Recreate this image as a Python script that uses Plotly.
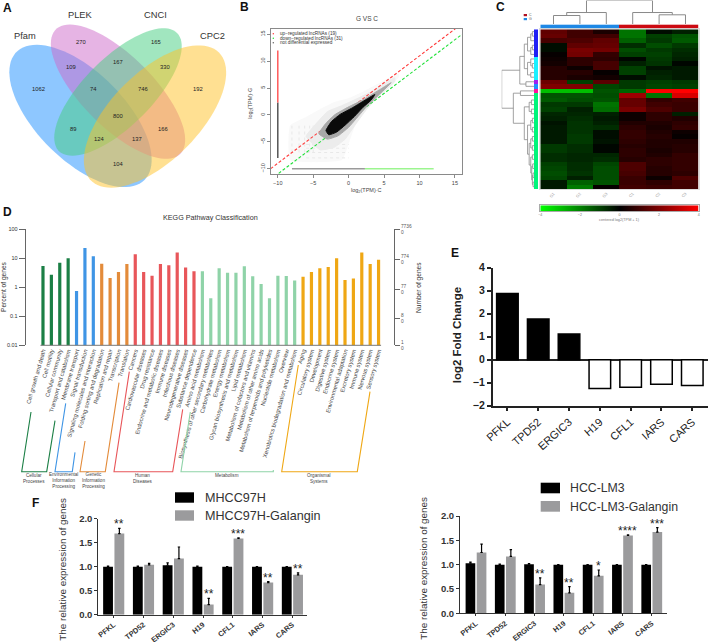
import numpy as np
import plotly.graph_objects as go

W, H = 709, 642
FONT = "Liberation Sans"

# ---------- Panel A data
venn_names = ["Pfam", "PLEK", "CNCI", "CPC2"]
venn_counts = [1062, 270, 165, 192, 109, 167, 330, 74, 746, 800, 89, 166, 124, 137, 104]

# ---------- Panel B data
up_label = "up\u2212regulated lncRNAs (19)"
down_label = "down\u2212regulated lncRNAs (31)"
none_label = "not differential expressed"
cloud_faint_x = [-8.2, -6, -4, -2, 0, 2, 5, 7, 7, 5, 3, 1, 0, -1, -8.2]
cloud_faint_y = [-2, -0.5, 1, 2.3, 3, 4.2, 6.3, 7.6, 7, 4.5, 1.8, -1.5, -5, -8.3, -8.3]
cloud_light_x = [-6, -4.5, -3, -1, 1, 3, 5.5, 6.5, 6.5, 4, 2.5, 1, -0.5, -2, -4]
cloud_light_y = [-4, -1.5, 0.6, 1.7, 2.9, 4.2, 6.2, 6.9, 6.2, 3.2, 1, -1.7, -4.5, -6, -6.5]
cloud_mid_x = [-4.2, -3.3, -2, 0, 2, 4.5, 6, 4, 2.5, 1, 0, -1.5, -3]
cloud_mid_y = [-3.5, -1.7, 0, 1.5, 2.8, 4.8, 6, 3.4, 1.5, -0.8, -2.3, -3.9, -4.5]
cloud_core_x = [-3.2, -2.4, -1.2, 0.5, 2, 3.7, 3.2, 2, 0.8, -0.5, -1.7, -2.8]
cloud_core_y = [-2.9, -1.2, 0.1, 1.3, 2.5, 3.8, 2.8, 1.4, -0.3, -1.9, -3.2, -3.7]
streak_cols = [-8, -7, -6.2, -5.5, -5]
streak_rows = [-8, -7, -6.2, -5.5]
axis_low, axis_split, axis_high = -8, 2.3, 12
b_ticks = [-10, -5, 0, 5, 10, 15]

# ---------- Panel C data
heat_cols = ["G1", "G2", "G3", "C1", "C2", "C3"]
heat_values = [
    [1.5, 1.0, 0.4, -1.8, -0.2, -0.5],
    [1.6, 1.0, 1.0, -1.8, -1.0, -1.3],
    [1.1, 1.2, 1.5, -1.5, -0.9, -1.4],
    [-0.2, 1.5, 1.6, -0.7, -1.2, -0.9],
    [-0.2, 1.9, 1.8, -1.2, -0.9, -0.7],
    [0.1, 1.8, 0.8, -1.0, -1.0, -0.6],
    [0.2, 0.7, 0.7, -0.1, -0.9, -0.5],
    [0.3, 0.7, 1.1, -0.5, -0.8, -0.1],
    [0.6, 0.2, 1.1, -1.0, -0.3, -0.4],
    [0.6, 0.6, 0.1, -1.0, -0.5, -0.4],
    [0.6, 0.4, 0.3, -0.2, -0.6, -0.4],
    [1.7, -1.0, 1.4, -0.9, -1.0, -0.9],
    [2.0, 2.0, -1.1, -0.9, -1.1, -1.0],
    [-3.0, -3.0, -1.3, -1.6, 4.0, 4.0],
    [-1.3, -1.3, -1.2, 2.5, -1.8, 3.4],
    [-1.4, -1.2, -1.3, 1.6, 0.8, 1.0],
    [-0.9, -0.9, -1.8, 1.6, 1.0, 0.9],
    [-1.0, -0.5, -1.7, 1.9, 1.2, 0.9],
    [-0.6, -0.6, -0.5, 0.2, 0.7, -0.5],
    [-0.5, -0.7, -0.4, 0.2, 0.7, 0.5],
    [-0.3, -0.8, -0.5, 0.5, 0.5, 0.7],
    [-0.4, -0.8, -0.7, 0.7, 0.4, 0.8],
    [-0.4, -0.8, -0.2, 0.8, 0.5, 0.2],
    [-0.4, -0.9, -0.2, 0.8, 0.6, 0.1],
    [-0.4, -0.9, -0.3, 0.7, 0.5, 0.5],
    [-0.9, -0.7, -0.1, 0.6, 0.5, 0.6],
    [-0.9, -0.7, -0.1, 0.7, 0.4, 0.6],
    [-0.7, -0.6, -0.6, 0.7, 0.5, 0.8],
    [-0.7, -0.6, -0.7, 0.6, 0.7, 0.8],
    [-1.0, -0.7, -1.1, 1.2, 0.7, 0.8],
    [-1.1, -0.7, -1.2, 1.2, 0.6, 0.8],
    [-1.2, -0.8, -1.2, 1.1, 0.6, 0.7],
    [-1.1, -0.5, -1.2, 0.9, 0.2, 1.2],
    [-0.4, -1.5, -1.3, 0.9, 0.7, 1.0],
    [-0.4, -1.9, 0.1, 1.0, 0.9, 1.0],
]
row_groups = [0] * 6 + [1] * 5 + [2] + [3] + [4] + [5] * 21
row_group_colors = ["#2020F5", "#19F0FF", "#A020F0", "#1E90FF", "#FF10A0", "#00F57A"]
col_groups = [0, 0, 0, 1, 1, 1]
col_group_colors = ["#1E88E5", "#CC0A12"]
top_tree = (1, (.486, (.36, 0, 1), 2), (.486, 3, (.39, 4, 5)))
upper_tree = (.44, (.3, (.2, (.1, (.05, 0, 1), 2), (.1, (.05, 3, 4), 5)),
                    (.2, (.1, 6, (.05, 7, 8)), (.1, 9, 10))), (.25, 11, 12))
rest_tree = (.3, (.15, (.08, 15, 16), (.08, 17, 18)),
             (.2, (.1, (.05, 19, 20), (.05, 21, 22)),
              (.15, (.1, (.05, 23, 24), (.05, 25, 26)),
               (.1, (.05, 27, 28), (.07, (.04, 29, 30), (.05, (.03, 31, 32), (.03, 33, 34)))))))
left_tree = (1, upper_tree, (.64, (.42, 13, 14), rest_tree))
scale_ticks = [-4, -2, 0, 2, 4]

# ---------- Panel D data
kegg_terms = [
    "Cell growth and death", "Cell motility", "Cellular community", "Transport and catabolism",
    "Membrane transport", "Signal transduction", "Signaling molecules and interaction",
    "Folding sorting and degradation", "Replication and repair", "Transcription", "Translation",
    "Cancers", "Cardiovascular diseases", "Drug resistance", "Endocrine and metabolic diseases",
    "Immune diseases", "Infectious diseases", "Neurodegenerative diseases", "Substance dependence",
    "Amino acid metabolism", "Biosynthesis of other secondary metabolites", "Carbohydrate metabolism",
    "Energy metabolism", "Glycan biosynthesis and metabolism", "Lipid metabolism",
    "Metabolism of cofactors and vitamins", "Metabolism of other amino acids",
    "Metabolism of terpenoids and polyketides", "Nucleotide metabolism", "Overview",
    "Xenobiotics biodegradation and metabolism",
    "Aging", "Circulatory system", "Development", "Digestive system", "Endocrine system",
    "Environmental adaptation", "Excretory system", "Immune system", "Nervous system", "Sensory system",
]
kegg_percent = [5.4, 2.7, 7.0, 10.0, 0.75, 22.7, 11.8, 6.5, 2.1, 3.4, 6.4,
                13.7, 3.4, 2.5, 6.4, 5.8, 16.0, 4.8, 3.6,
                3.6, 0.42, 4.5, 3.2, 3.2, 5.3, 2.4, 1.3, 0.42, 2.5, 2.45, 1.7,
                2.3, 3.4, 4.5, 5.0, 10.0, 1.8, 2.0, 16.0, 6.4, 9.0]
kegg_group_sizes = [4, 3, 4, 8, 12, 10]
kegg_group_colors = ["#1B7F45", "#3F95E5", "#E38B3A", "#E8565A", "#8FD3A8", "#EFA714"]
kegg_group_names = ["Cellular<br>Processes", "Environmental<br>Information<br>Processing",
                    "Genetic<br>Information<br>Processing", "Human<br>Diseases",
                    "Metabolism", "Organismal<br>Systems"]
percent_ticks = [100, 10, 1, 0.1, 0.01]
percent_labels = ["100", "10", "1", "0.1", "0.01"]
gene_ticks = [7736, 774, 77, 8, 1]

# ---------- Panel E data
genes = ["PFKL", "TPD52", "ERGIC3", "H19", "CFL1", "IARS", "CARS"]
fold_change = [2.88, 1.77, 1.12, -1.25, -1.2, -1.07, -1.12]

# ---------- Panel F data
mhcc_name, mhcc_gal_name = "MHCC97H", "MHCC97H-Galangin"
mhcc = [1.0, 1.0, 1.03, 1.0, 1.0, 1.0, 1.0]
mhcc_err = [0.01, 0.01, 0.05, 0.01, 0.0, 0.0, 0.0]
mhcc_gal = [1.69, 1.04, 1.17, 0.21, 1.59, 0.67, 0.83]
mhcc_gal_err = [0.11, 0.03, 0.24, 0.13, 0.01, 0.02, 0.04]
mhcc_stars = ["**", "", "", "**", "***", "**", "**"]
lm3_name, lm3_gal_name = "HCC-LM3", "HCC-LM3-Galangin"
lm3 = [1.03, 1.0, 1.01, 1.0, 1.0, 1.0, 1.0]
lm3_err = [0.02, 0.01, 0.01, 0.0, 0.0, 0.0, 0.0]
lm3_gal = [1.25, 1.17, 0.59, 0.42, 0.77, 1.6, 1.67]
lm3_gal_err = [0.17, 0.14, 0.14, 0.13, 0.12, 0.01, 0.09]
lm3_stars = ["", "", "**", "**", "*", "****", "***"]
rel_ticks = [0, 0.5, 1.0, 1.5, 2.0]


def X(a, b):
    return [a / W, b / W]


def Y(a, b):
    return [1 - b / H, 1 - a / H]


fig = go.Figure()
layout = {}
shapes, notes = [], []
OV = ("x13", "y13")


def txt(x, y, s, size, color="#222", angle=0, bold=False, xanchor="center", yanchor="middle"):
    notes.append(dict(x=x, y=y, xref=OV[0], yref=OV[1], text=s, showarrow=False, textangle=angle,
                      xanchor=xanchor, yanchor=yanchor, align="center",
                      font=dict(size=size, color=color, family=FONT, weight=700 if bold else 400)))


def poly(points, color, width=1.1):
    path = "M" + " L".join(f"{a:.2f},{b:.2f}" for a, b in points)
    shapes.append(dict(type="path", path=path, xref=OV[0], yref=OV[1], line=dict(color=color, width=width)))


# ---------- overlay pixel axis
layout["xaxis13"] = dict(domain=[0, 1], range=[0, W], visible=False, fixedrange=True, anchor="y13")
layout["yaxis13"] = dict(domain=[0, 1], range=[H, 0], visible=False, fixedrange=True, anchor="x13")

# ---------- Panel A
ell = [(80.5, 116, 90.5, 44, 45, "#1E90FF"), (118, 91.7, 88, 35.7, 45, "#CD69C9"),
       (118, 92, 83.5, 34, -45, "#43CD80"), (155, 116.5, 90.5, 44, -45, "#FFC125")]
t = np.linspace(0, 2 * np.pi, 90)
for cx, cy, a, b, ang, col in ell:
    th = np.radians(ang)
    ex = cx + a * np.cos(t) * np.cos(th) - b * np.sin(t) * np.sin(th)
    ey = cy + a * np.cos(t) * np.sin(th) + b * np.sin(t) * np.cos(th)
    path = "M" + " L".join(f"{p:.1f},{q:.1f}" for p, q in zip(ex, ey)) + " Z"
    shapes.append(dict(type="path", path=path, xref=OV[0], yref=OV[1], fillcolor=col, opacity=0.5,
                       line=dict(width=0), layer="below"))
for (px, py), name in zip([(24.5, 36), (80, 14.5), (155, 14.5), (212, 36)], venn_names):
    txt(px, py, name, 9.3, "#333")
count_pos = [(38.7, 89.3), (80.7, 41.7), (155.7, 41.7), (197.7, 89.3), (71, 66.7), (118, 61.7), (165, 66.7),
             (93, 89.3), (143, 89.3), (118, 116.3), (73.3, 129), (163.3, 129), (99.3, 139.3), (137, 139.3), (118, 163.7)]
for (px, py), c in zip(count_pos, venn_counts):
    txt(px, py, str(c), 5.8, "#222")

# ---------- Panel B
bx = dict(domain=X(270.7, 462), range=[-11, 16], anchor="y", tickvals=b_ticks, showgrid=False, zeroline=False,
          mirror=True, showline=True, linecolor="#8a8a8a", linewidth=1, ticks="outside", ticklen=3, tickcolor="#8a8a8a",
          tickfont=dict(size=5.5, color="#444", family=FONT))
layout["xaxis"] = bx
layout["yaxis"] = dict(bx, domain=Y(29, 174), anchor="x", tickangle=-90)


def blob(cx, cy, col):
    fig.add_trace(go.Scatter(x=cx + cx[:1], y=cy + cy[:1], fill="toself", fillcolor=col, mode="lines",
                             line=dict(color=col, width=1, shape="spline", smoothing=0.4),
                             hoverinfo="skip", showlegend=False))


blob(cloud_faint_x, cloud_faint_y, "#f9f9f9")
sx, sy = [], []
for c in streak_cols:
    sx += [c, c, None]; sy += [-7, -2, None]
for r in streak_rows:
    sx += [-6, 0, None]; sy += [r, r, None]
fig.add_trace(go.Scatter(x=sx, y=sy, mode="lines", line=dict(color="#e8e8e8", width=1, dash="dot"),
                         hoverinfo="skip", showlegend=False))
blob(cloud_light_x, cloud_light_y, "#ececec")
lim = [-11, 16]
fig.add_trace(go.Scatter(x=lim, y=[v + 1 for v in lim], mode="lines",
                         line=dict(color="#FF3B3B", width=1.1, dash="3px,2px"), hoverinfo="skip", showlegend=False))
fig.add_trace(go.Scatter(x=lim, y=[v - 1 for v in lim], mode="lines",
                         line=dict(color="#22E03A", width=1.1, dash="3px,2px"), hoverinfo="skip", showlegend=False))
blob(cloud_mid_x, cloud_mid_y, "#a8a8a8")
blob(cloud_core_x, cloud_core_y, "#0a0a0a")
for xs, ys, col in [([-10, -10], [axis_low, axis_split], "#555555"), ([-10, -10], [axis_split, axis_high], "#FF5A5A"),
                    ([axis_low, axis_split], [-10, -10], "#9a9a9a"), ([axis_split, axis_high], [-10, -10], "#9CF58F")]:
    fig.add_trace(go.Scatter(x=xs, y=ys, mode="lines", line=dict(color=col, width=1.5), hoverinfo="skip", showlegend=False))
txt(366.7, 18, "G VS C", 6.5, "#444")
txt(366.7, 190, "log<sub>2</sub>(TPM)\u00b7C", 5.5, "#444")
txt(249.7, 103, "log<sub>2</sub>(TPM)\u00b7G", 5.5, "#444", angle=-90)
for py, s in zip([33.7, 38.3, 42.7], [up_label, down_label, none_label]):
    txt(278, py, s, 4.7, "#333", xanchor="left")
fig.add_trace(go.Scatter(x=[273.3] * 3, y=[33.7, 38.3, 42.7], xaxis="x13", yaxis="y13", mode="markers",
                         marker=dict(size=1.5, color=["#FF3B3B", "#22E03A", "#666666"]),
                         hoverinfo="skip", showlegend=False))

# ---------- Panel C
hidden = dict(visible=False, fixedrange=True)
layout["xaxis2"] = dict(domain=X(540.3, 698.7), range=[-0.5, 5.5], anchor="y2", tickvals=list(range(6)), ticktext=heat_cols,
                        tickangle=-45, tickfont=dict(size=4, color="#999", family=FONT), ticks="", showgrid=False, zeroline=False,
                        mirror=True, showline=True, linecolor="#ddd")
layout["yaxis2"] = dict(domain=Y(29.3, 189), range=[34.5, -0.5], anchor="x2", showticklabels=False, ticks="", showgrid=False,
                        zeroline=False, mirror=True, showline=True, linecolor="#ddd")
gb = [[-4, "#00FF00"], [0, "#000000"], [4, "#FF0000"]]
gbs = [[(v + 4) / 8, c] for v, c in gb]
fig.add_trace(go.Heatmap(z=heat_values, xaxis="x2", yaxis="y2", zmin=-4, zmax=4, colorscale=gbs, showscale=False, hoverinfo="skip"))


def discrete(colors):
    n = len(colors)
    out = []
    for i, c in enumerate(colors):
        out += [[i / n, c], [(i + 1) / n, c]]
    return out


layout["xaxis3"] = dict(hidden, domain=X(540.3, 698.7), range=[-0.5, 5.5], anchor="y3")
layout["yaxis3"] = dict(hidden, domain=Y(24.4, 28.3), range=[-0.5, 0.5], anchor="x3")
fig.add_trace(go.Heatmap(z=[col_groups], xaxis="x3", yaxis="y3", zmin=-0.5, zmax=1.5, colorscale=discrete(col_group_colors),
                         showscale=False, hoverinfo="skip"))
layout["xaxis4"] = dict(hidden, domain=X(534, 538.3), range=[-0.5, 0.5], anchor="y4")
layout["yaxis4"] = dict(hidden, domain=Y(29.3, 189), range=[34.5, -0.5], anchor="x4")
fig.add_trace(go.Heatmap(z=[[g] for g in row_groups], xaxis="x4", yaxis="y4", zmin=-0.5, zmax=5.5,
                         colorscale=discrete(row_group_colors), showscale=False, hoverinfo="skip"))


def tree_lines(node, out_pos, out_h):
    """Return position of the node; appends bracket segments (pos, height)."""
    if not isinstance(node, tuple):
        return node, 0.0
    h, l, r = node
    pl, hl = tree_lines(l, out_pos, out_h)
    pr, hr = tree_lines(r, out_pos, out_h)
    out_pos += [pl, pl, pr, pr, None]
    out_h += [hl, h, h, hr, None]
    return (pl + pr) / 2, h


lp, lh = [], []
tree_lines(top_tree, lp, lh)
layout["xaxis5"] = dict(hidden, domain=X(540.3, 698.7), range=[-0.5, 5.5], anchor="y5")
layout["yaxis5"] = dict(hidden, domain=Y(0.4, 24), range=[0, 1], anchor="x5")
fig.add_trace(go.Scatter(x=lp, y=lh, xaxis="x5", yaxis="y5", mode="lines", line=dict(color="#8a8a8a", width=1),
                         hoverinfo="skip", showlegend=False))
lp, lh = [], []
tree_lines(left_tree, lp, lh)
layout["xaxis6"] = dict(hidden, domain=X(501.7, 534), range=[1, 0], anchor="y6")
layout["yaxis6"] = dict(hidden, domain=Y(29.3, 189), range=[34.5, -0.5], anchor="x6")
fig.add_trace(go.Scatter(x=lh, y=lp, xaxis="x6", yaxis="y6", mode="lines", line=dict(color="#8a8a8a", width=0.8),
                         hoverinfo="skip", showlegend=False))
layout["xaxis7"] = dict(domain=X(540.3, 698.7), range=[-4, 4], anchor="y7", tickvals=scale_ticks, ticks="", ticklen=0,
                        tickfont=dict(size=3.6, color="#777", family=FONT), showgrid=False, zeroline=False, mirror=True,
                        showline=True, linecolor="#aaa", tickcolor="#aaa")
layout["yaxis7"] = dict(domain=Y(205.3, 211), range=[0, 1], anchor="x7", showticklabels=False, ticks="", showgrid=False,
                        zeroline=False, mirror=True, showline=True, linecolor="#aaa", fixedrange=True)
fig.add_trace(go.Heatmap(z=[scale_ticks, scale_ticks], x=scale_ticks, y=[0, 1], xaxis="x7", yaxis="y7", zmin=-4, zmax=4,
                         colorscale=gbs, zsmooth="best", showscale=False, hoverinfo="skip"))
txt(619.5, 219.5, "centered log2(TPM + 1)", 3.8, "#777")
shapes.append(dict(type="rect", xref=OV[0], yref=OV[1], x0=523.7, x1=527, y0=14, y1=16.2, fillcolor="#B01020", line=dict(width=0)))
shapes.append(dict(type="rect", xref=OV[0], yref=OV[1], x0=523.7, x1=527, y0=18, y1=20.2, fillcolor="#1E88E5", line=dict(width=0)))
txt(530.5, 15, "C", 3.5, "#555")
txt(530.5, 19, "G", 3.5, "#555")

# ---------- Panel D
bar_colors = []
for n, c in zip(kegg_group_sizes, kegg_group_colors):
    bar_colors += [c] * n
idx = list(range(len(kegg_terms)))
layout["xaxis8"] = dict(domain=X(25.7, 394), range=[-2.06, 41.84], anchor="y8", tickvals=idx, ticktext=kegg_terms, tickangle=-74,
                        tickfont=dict(size=5.8, color="#444", family=FONT), ticks="", showgrid=False, zeroline=False, showline=False)
layout["yaxis8"] = dict(domain=Y(229.3, 345.3), type="log", range=[-2, 2], anchor="x8", tickvals=percent_ticks, ticktext=percent_labels,
                        ticks="outside", ticklen=6, tickcolor="#666", showline=True, linecolor="#666", linewidth=1,
                        tickfont=dict(size=5.5, color="#333", family=FONT), showgrid=False, zeroline=False)
layout["yaxis9"] = dict(domain=Y(229.3, 345.3), type="log", range=[0, float(np.log10(7736))], overlaying="y8", side="right", anchor="x8",
                        tickvals=gene_ticks, ticktext=[f"{g}<br>0" for g in gene_ticks], ticks="outside", ticklen=5, tickcolor="#666",
                        showline=True, linecolor="#666", linewidth=1, tickfont=dict(size=4.8, color="#555", family=FONT),
                        showgrid=False, zeroline=False)
fig.add_trace(go.Bar(x=idx, y=kegg_percent, xaxis="x8", yaxis="y8", width=0.38, marker=dict(color=bar_colors, line=dict(width=0)),
                     hoverinfo="skip", showlegend=False))
fig.add_trace(go.Scatter(x=idx[:1], y=gene_ticks[:1], xaxis="x8", yaxis="y9", mode="markers", marker=dict(size=1, opacity=0),
                         hoverinfo="skip", showlegend=False))
shapes.append(dict(type="line", xref="x8", yref="y8 domain", x0=-0.3, x1=40.3, y0=0, y1=0, line=dict(color="#777", width=1)))
txt(210, 217.7, "KEGG Pathway Classification", 7.2, "#333")
txt(4, 287, "Percent of genes", 6.6, "#333", angle=-90)
txt(419, 288, "Number of genes", 6.6, "#333", angle=-90)
bracket_pts = [
    [(31, 412), (21.7, 471.7), (46.7, 471.7), (55, 420.7)],
    [(65.7, 403.3), (55, 471.7), (72.3, 471.7), (75, 452.3)],
    [(85, 441), (80, 471.7), (105.3, 471.7), (119, 382.7)],
    [(129.3, 371.7), (114, 471.7), (172.7, 471.7), (182.7, 409.3)],
    [(190.3, 412), (181, 471.7), (273.3, 471.7), (273.3, 470)],
    [(298.3, 365), (281.7, 471.7), (357.3, 471.7), (370, 391.7)],
]
for pts, c in zip(bracket_pts, kegg_group_colors):
    poly(pts, c)
for px, py, s in zip([34, 63, 93, 143, 227, 319], [478, 480, 480, 478, 475.5, 478], kegg_group_names):
    txt(px, py, s, 4.6, "#444")

# ---------- Panel E
tick_e = dict(size=10.5, color="#222", family=FONT, weight=700)
layout["xaxis10"] = dict(domain=X(492.7, 708), range=[-0.477, 6.51], anchor="y10", tickvals=list(range(7)), ticktext=genes, tickangle=-42,
                         tickfont=dict(size=11, color="#222", family=FONT), ticks="outside", ticklen=4, tickwidth=1.5, tickcolor="#222",
                         showline=True, linecolor="#222", linewidth=1.5, showgrid=False, zeroline=False)
layout["yaxis10"] = dict(domain=Y(267.7, 405.7), range=[-2, 4], anchor="x10", tickvals=[-2, -1, 0, 1, 2, 3, 4], tickfont=tick_e,
                         ticks="outside", ticklen=4, tickwidth=1.5, tickcolor="#222", showline=True, linecolor="#222", linewidth=1.5,
                         showgrid=False, zeroline=True, zerolinecolor="#222", zerolinewidth=1.5)
fig.add_trace(go.Bar(x=list(range(7)), y=fold_change, xaxis="x10", yaxis="y10", width=0.7,
                     marker=dict(color=["#000000" if v > 0 else "#ffffff" for v in fold_change], line=dict(color="#000", width=1.5)),
                     hoverinfo="skip", showlegend=False))
txt(457.3, 335, "log2 Fold Change", 11.5, "#222", angle=-90, bold=True)

# ---------- Panel F


def panel_f(n, xd, yd, xr, blacks, berr, grays, gerr, stars, tick_off=0.185):
    xa, ya = f"xaxis{n}", f"yaxis{n}"
    layout[xa] = dict(domain=X(*xd), range=xr, anchor=f"y{n}", tickvals=list(range(7)), ticktext=genes, tickangle=-38,
                      tickfont=dict(size=7.4, color="#333", family=FONT, weight=700), ticks="outside", ticklen=2, tickcolor="#333",
                      showline=True, linecolor="#333", linewidth=1, showgrid=False, zeroline=False)
    layout[ya] = dict(domain=Y(*yd), range=[0, 2], anchor=f"x{n}", tickvals=rel_ticks, ticktext=[f"{v:.1f}" for v in rel_ticks],
                      tickfont=dict(size=9.5, color="#333", family=FONT, weight=700), ticks="outside", ticklen=3, tickcolor="#333",
                      showline=True, linecolor="#333", linewidth=1, showgrid=False, zeroline=False)
    for ys, es, col, off in [(blacks, berr, "#000000", -0.355), (grays, gerr, "#9B9B9D", 0.025)]:
        fig.add_trace(go.Bar(x=list(range(7)), y=ys, xaxis=f"x{n}", yaxis=f"y{n}", width=0.33, offset=off,
                             marker=dict(color=col, line=dict(width=0)),
                             error_y=dict(type="data", symmetric=False, array=es, arrayminus=[0] * 7, color="#000", thickness=1.2, width=1.2),
                             hoverinfo="skip", showlegend=False))
    for i, s in enumerate(stars):
        if s:
            notes.append(dict(x=i + tick_off, y=grays[i] + gerr[i], xref=f"x{n}", yref=f"y{n}", text=s, showarrow=False,
                              yanchor="bottom", yshift=-5, font=dict(size=12, color="#222", family=FONT)))


panel_f(11, (98.3, 307.3), (518.7, 614.7), [-0.517, 6.5], mhcc, mhcc_err, mhcc_gal, mhcc_gal_err, mhcc_stars)
panel_f(12, (460, 666.7), (516, 613.3), [-0.546, 6.51], lm3, lm3_err, lm3_gal, lm3_gal_err, lm3_stars)
txt(61.7, 569, "The relative expression of genes", 9.9, "#333", angle=-90)
txt(422.7, 568, "The relative expression of genes", 9.9, "#333", angle=-90)
for x0, x1, y0, y1, c in [(175, 194, 492.3, 502.7, "#000"), (175, 194, 510.3, 520.7, "#9B9B9D"),
                          (540.7, 560, 482.7, 493.3, "#000"), (540.7, 560, 501, 511.7, "#9B9B9D")]:
    shapes.append(dict(type="rect", xref=OV[0], yref=OV[1], x0=x0, x1=x1, y0=y0, y1=y1, fillcolor=c, line=dict(width=0)))
txt(202.7, 497.5, mhcc_name, 12.6, "#333", xanchor="left")
txt(202.7, 515.5, mhcc_gal_name, 12.6, "#333", xanchor="left")
txt(568.3, 488, lm3_name, 12.3, "#333", xanchor="left")
txt(568.3, 506.5, lm3_gal_name, 12.3, "#333", xanchor="left")

# ---------- Panel letters
for px, py, s in [(7, 8, "A"), (244, 7, "B"), (500, 7, "C"), (7, 212, "D"), (455, 253, "E"), (35, 503, "F")]:
    txt(px, py, s, 12, "#111", bold=True)

fig.update_layout(template="none", width=W, height=H, margin=dict(l=0, r=0, t=0, b=0), paper_bgcolor="white",
                  plot_bgcolor="rgba(0,0,0,0)", barmode="overlay", showlegend=False, shapes=shapes, annotations=notes,
                  font=dict(family=FONT), **layout)
fig.write_html("out.html", config=dict(displayModeBar=False),
               post_script="document.body.style.margin='0';document.body.style.overflow='hidden';")
